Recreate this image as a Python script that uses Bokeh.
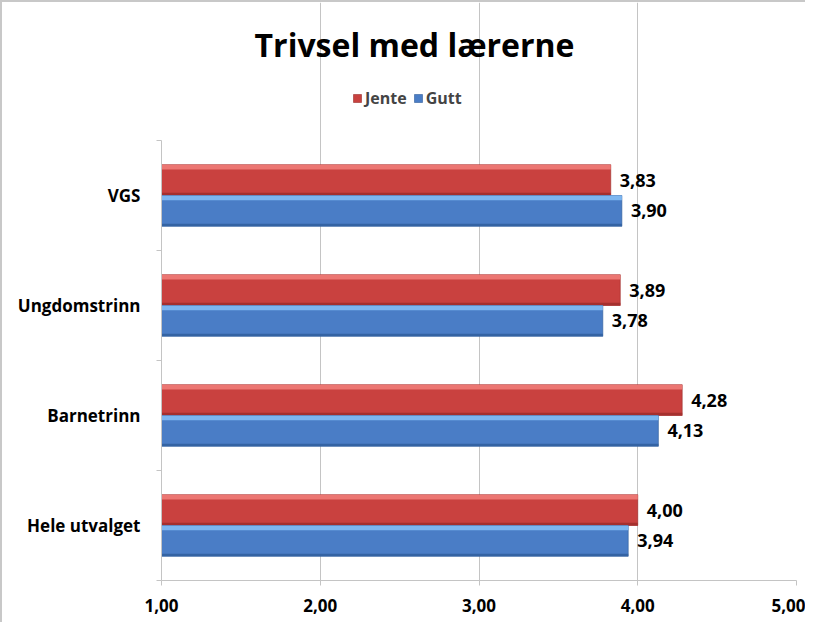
from bokeh.plotting import figure
from bokeh.models import Range1d, FixedTicker, Label, Legend, LegendItem, ColumnDataSource
from bokeh.core.properties import value
from bokeh.embed import file_html
from bokeh.resources import INLINE

# ---- data ----
categories = ["Hele utvalget", "Barnetrinn", "Ungdomstrinn", "VGS"]
jente = [4.00, 4.28, 3.89, 3.83]
gutt = [3.94, 4.13, 3.78, 3.90]
x_ticks = [1, 2, 3, 4, 5]
x_tick_labels = ["1,00", "2,00", "3,00", "4,00", "5,00"]
series_names = ["Jente", "Gutt"]
title_text = "Trivsel med lærerne"

FONT = "Open Sans"
BAR_H = 0.28
RED, RED_HI, RED_LO = "#C9413F", "#EC7672", "#A5302E"
BLUE, BLUE_HI, BLUE_LO = "#4A7DC6", "#7DB6F0", "#3463A3"
GRID = "#C4C4C4"

# layout (pixels)
LEFT, RIGHT, BOTTOM = 159, 11, 44
W = 805
H = 578 + BOTTOM
HEADER = 138           # space above the bar area, inside the frame
BAND_PX = (H - BOTTOM - HEADER)

n = len(categories)
y_top = n + n * HEADER / BAND_PX
centers = [i + 0.5 for i in range(n)]
y_j = [c + BAR_H / 2 for c in centers]
y_g = [c - BAR_H / 2 for c in centers]


def make_src(ys, vals):
    return ColumnDataSource(dict(
        y=ys, v=vals,
        y_hi=[y + BAR_H / 2 - 0.022 for y in ys],
        y_lo=[y - BAR_H / 2 + 0.012 for y in ys],
        lab=[f"{v:.2f}".replace(".", ",") for v in vals],
    ))


src_j = make_src(y_j, jente)
src_g = make_src(y_g, gutt)

p = figure(width=W, height=H,
           x_range=Range1d(x_ticks[0], x_ticks[-1]), y_range=Range1d(0, y_top),
           output_backend="svg", toolbar_location=None, title=None,
           min_border_left=LEFT, min_border_right=RIGHT,
           min_border_top=0, min_border_bottom=BOTTOM)
p.styles = {"border-top": "2px solid #C8C8C8", "border-left": "2px solid #C8C8C8"}
p.outline_line_color = None
p.background_fill_color = "white"

# bars
rj = p.hbar(y="y", left=1, right="v", height=BAR_H, source=src_j,
            fill_color=RED, line_color="#9A2E2C", line_width=0.6)
p.hbar(y="y_hi", left=1, right="v", height=0.044, source=src_j,
       fill_color=RED_HI, line_color=None)
p.hbar(y="y_lo", left=1, right="v", height=0.024, source=src_j,
       fill_color=RED_LO, line_color=None)

rg = p.hbar(y="y", left=1, right="v", height=BAR_H, source=src_g,
            fill_color=BLUE, line_color="#2F5C99", line_width=0.6)
p.hbar(y="y_hi", left=1, right="v", height=0.044, source=src_g,
       fill_color=BLUE_HI, line_color=None)
p.hbar(y="y_lo", left=1, right="v", height=0.024, source=src_g,
       fill_color=BLUE_LO, line_color=None)

# value labels
for src in (src_j, src_g):
    p.text(x="v", y="y", text="lab", source=src, x_offset=9,
           text_font=value(FONT), text_font_style="bold",
           text_font_size="18px", text_baseline="middle", text_align="left",
           text_color="black")

# x axis
xa = p.xaxis[0]
xa.ticker = FixedTicker(ticks=x_ticks)
xa.major_label_overrides = {t: l for t, l in zip(x_ticks, x_tick_labels)}
xa.major_label_text_font = FONT
xa.major_label_text_font_style = "bold"
xa.major_label_text_font_size = "17px"
xa.major_label_text_color = "black"
xa.major_label_standoff = 13
xa.axis_line_color = GRID
xa.major_tick_line_color = GRID
xa.major_tick_out = 5
xa.major_tick_in = 0
xa.minor_tick_line_color = None

# y axis
ya = p.yaxis[0]
ya.bounds = (0, n)
ya.ticker = FixedTicker(ticks=centers, minor_ticks=list(range(n + 1)))
ya.major_label_overrides = {c: l for c, l in zip(centers, categories)}
ya.major_label_text_font = FONT
ya.major_label_text_font_style = "bold"
ya.major_label_text_font_size = "17px"
ya.major_label_text_color = "black"
ya.major_label_standoff = 15
ya.axis_line_color = GRID
ya.major_tick_line_color = None
ya.minor_tick_line_color = GRID
ya.minor_tick_out = 5
ya.minor_tick_in = 0

# grid
p.xgrid.ticker = FixedTicker(ticks=x_ticks)
p.xgrid.bounds = (0, n)
p.xgrid.grid_line_color = GRID
p.ygrid.grid_line_color = None

# title (inside the frame's header area)
p.add_layout(Label(x=253, y=H - BOTTOM - 42, x_units="screen", y_units="screen",
                   text=title_text, text_font=FONT, text_font_style="bold",
                   text_font_size="32px", text_align="center",
                   text_baseline="middle", text_color="black"))

# legend
legend = Legend(items=[LegendItem(label=series_names[0], renderers=[rj]),
                       LegendItem(label=series_names[1], renderers=[rg])],
                location=(191, H - BOTTOM - 107), orientation="horizontal",
                glyph_width=10, glyph_height=10, label_height=14,
                label_standoff=3, spacing=6, padding=0, margin=0,
                label_text_font=FONT, label_text_font_style="bold",
                label_text_font_size="16px",
                border_line_color=None, background_fill_alpha=0)
p.add_layout(legend)

open("out.html", "w").write(file_html(p, INLINE))
